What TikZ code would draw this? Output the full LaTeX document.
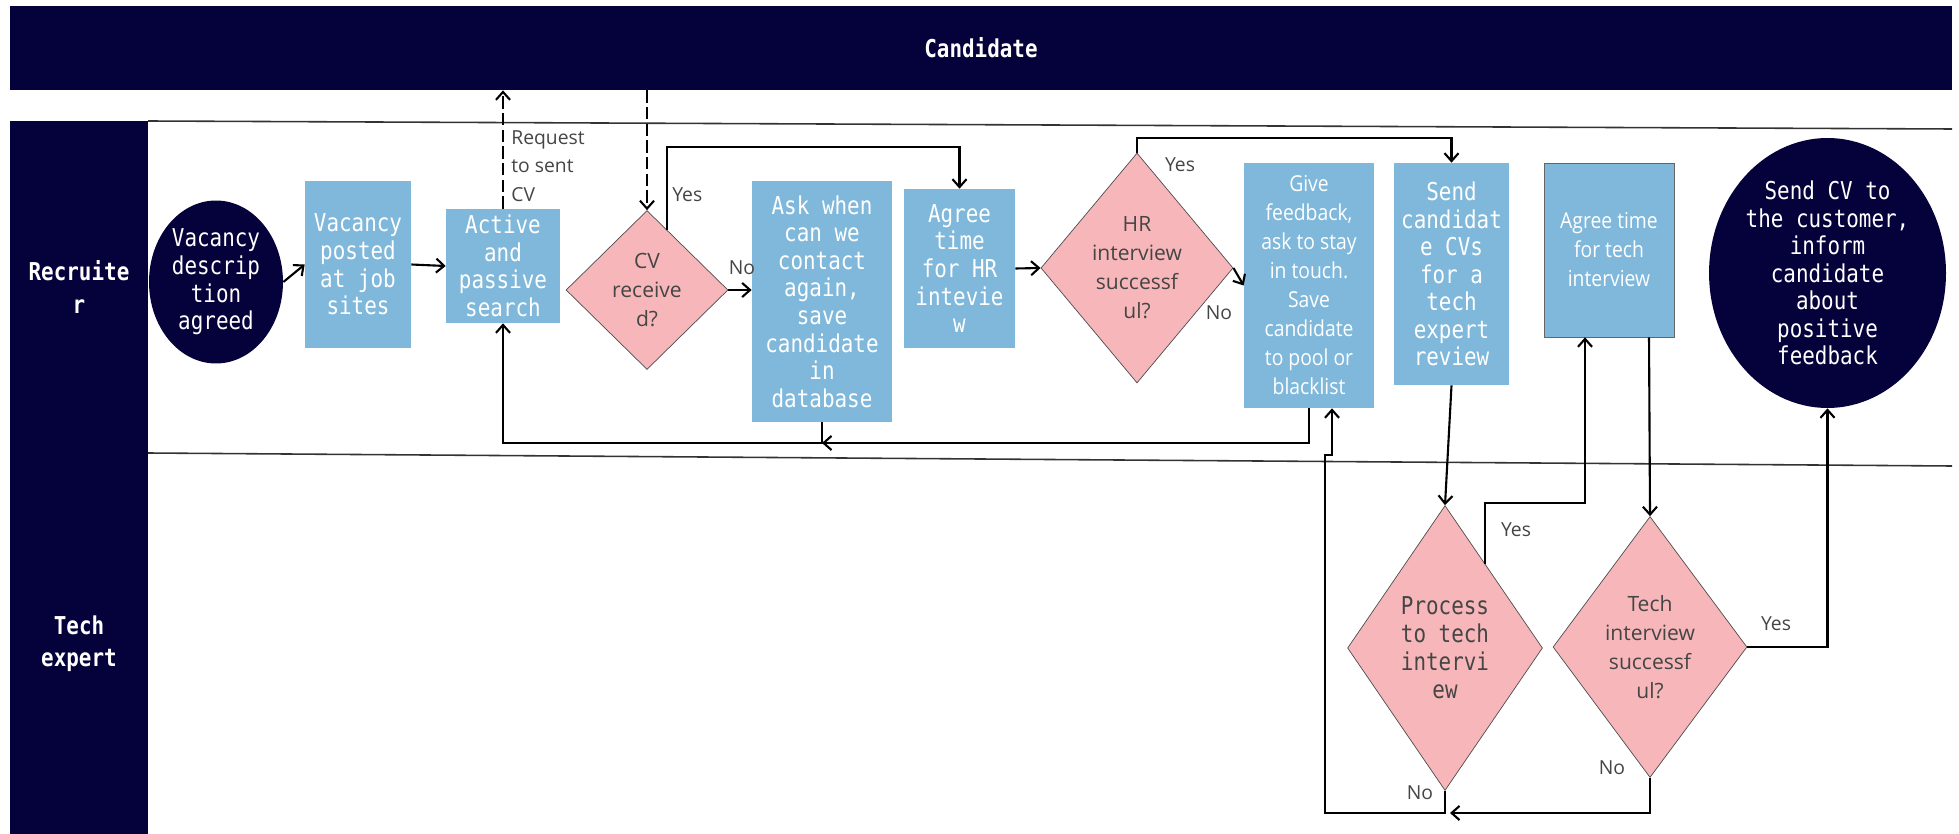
\documentclass[tikz,border=0pt]{standalone}
\usepackage{fontspec}
\setmainfont{Open Sans}
\newfontfamily\monof[FakeStretch=0.85]{DejaVu Sans Mono}
\newfontfamily\sansc[FakeStretch=0.88]{Open Sans}
\usetikzlibrary{shapes.geometric,arrows.meta,calc}
\definecolor{navy}{HTML}{05013A}
\definecolor{boxblue}{HTML}{7FB8DA}
\definecolor{pinkd}{HTML}{F7B7BA}
\definecolor{txtgray}{HTML}{454545}

\begin{document}
\begin{tikzpicture}[x=0.02cm,y=-0.02cm,
  lanebox/.style={fill=navy,text=white,font=\monof\bfseries\fontsize{14}{18.5}\selectfont,align=center,inner sep=0},
  procbox/.style={fill=boxblue,text=white,font=\monof\fontsize{14}{15.7}\selectfont,align=center,inner sep=0},
  procsans/.style={procbox,font=\sansc\fontsize{12.5}{16.5}\selectfont},
  endell/.style={ellipse,fill=navy,text=white,font=\monof\fontsize{14}{15.7}\selectfont,align=center,inner sep=0},
  decision/.style={diamond,draw=black!70,line width=0.4pt,fill=pinkd,text=txtgray,font=\fontsize{12}{16.5}\selectfont,align=center,inner sep=0},
  flow/.style={draw,line width=1.2pt,-{Straight Barb[length=4.5pt,width=8pt]}},
  dflow/.style={flow,dash pattern=on 7pt off 2.5pt},
  lbl/.style={text=txtgray,font=\fontsize{11}{16.2}\selectfont,inner sep=0}]
\useasboundingbox (0,0) rectangle (1959,834);

% lanes
\node[lanebox,minimum width=38.84cm,minimum height=1.68cm] (cand) at (981,48) {Candidate};
\node[lanebox,minimum width=2.76cm,minimum height=6.64cm] (recr) at (79,287) {Recruite\\r};
\node[lanebox,minimum width=2.76cm,minimum height=7.62cm] (tech) at (79,643.5) {Tech\\expert};
\draw[line width=0.9pt,black!80] (148,121) -- (1952,129);
\draw[line width=0.9pt,black!80] (148,453) -- (1952,466);

% recruiter
\node[endell,minimum width=2.68cm,minimum height=3.26cm] (vacell) at (216,282) {Vacancy\\descrip\\tion\\agreed};
\node[procbox,minimum width=2.12cm,minimum height=3.34cm] (posted) at (358,264.5) {Vacancy\\posted\\at job\\sites};
\node[procbox,minimum width=2.28cm,minimum height=2.28cm] (search) at (503,266) {Active\\and\\passive\\search};
\node[decision,minimum width=3.24cm,minimum height=3.18cm] (cvrec) at (647,290) {CV\\receive\\d?};
\node[procbox,minimum width=2.8cm,minimum height=4.82cm] (askwhen) at (822,301.5) {Ask when\\can we\\contact\\again,\\save\\candidate\\in\\database};
\node[procbox,minimum width=2.22cm,minimum height=3.18cm] (agreehr) at (959.5,268.5) {Agree\\time\\for HR\\intevie\\w};
\node[decision,minimum width=3.84cm,minimum height=4.6cm] (hrok) at (1137,268) {HR\\interview\\successf\\ul?};
\node[procsans,minimum width=2.6cm,minimum height=4.9cm] (feedback) at (1309,285.5) {Give\\feedback,\\ask to stay\\in touch.\\Save\\candidate\\to pool or\\blacklist};
\node[procbox,minimum width=2.3cm,minimum height=4.44cm] (sendcvs) at (1451.5,274) {Send\\candidat\\e CVs\\for a\\tech\\expert\\review};
\node[procsans,draw=black!60,minimum width=2.6cm,minimum height=3.48cm] (agreetech) at (1609,250) {Agree time\\for tech\\interview};
\node[endell,minimum width=4.74cm,minimum height=5.4cm] (sendcust) at (1827.5,273) {Send CV to\\the customer,\\inform\\candidate\\about\\positive\\feedback};

% tech expert
\node[decision,font=\monof\fontsize{14}{16}\selectfont,minimum width=3.9cm,minimum height=5.7cm] (proctech) at (1445,648) {Process\\to tech\\intervi\\ew};
\node[decision,minimum width=3.88cm,minimum height=5.22cm] (techok) at (1650,647) {Tech\\interview\\successf\\ul?};

\coordinate (ytop1) at (0,147);
\coordinate (ytop2) at (0,138);
\coordinate (yret) at (0,443);
\coordinate (ybot) at (0,813);

\draw[flow] (vacell.east) -- (posted.west);
\draw[flow] (posted.east) -- (search.west);
\draw[dflow] (search.north) -- (search.north |- cand.south);
\node[lbl,align=left,anchor=west] (reqlbl) at (511,166) {Request\\to sent\\CV};
\draw[dflow] (cvrec.north |- cand.south) -- (cvrec.north);

\coordinate (cvyes) at ($(cvrec.north)!0.25!(cvrec.east)$);
\draw[flow] (cvyes) -- (cvyes |- ytop1) -| (agreehr.north);
\node[lbl,anchor=west] (cvyeslbl) at (672,195) {Yes};
\draw[flow] (cvrec.east) -- (cvrec.east -| askwhen.west);
\node[lbl] (cvnolbl) at (742,268) {No};

\draw[flow] (agreehr.east) -- (hrok.west);
\draw[flow] (hrok.north) -- (hrok.north |- ytop2) -| (sendcvs.north);
\node[lbl] (hryeslbl) at (1180,165) {Yes};
\draw[flow] (hrok.east) -- (feedback.west);
\node[lbl] (hrnolbl) at (1219,313) {No};

\draw[flow] (feedback.south) |- (askwhen.south |- yret);
\draw[flow] (askwhen.south) -- (askwhen.south |- yret) -| (search.south);

\draw[flow] (sendcvs.south) -- (proctech.north);
\coordinate (pyes) at ($(proctech.north)!0.41!(proctech.east)$);
\coordinate (pyestop) at (1585,503);
\draw[flow] (pyes) |- (pyestop) -- (pyestop |- agreetech.south);
\node[lbl] (pyeslbl) at (1516,530) {Yes};
\draw[flow] ($(agreetech.south)+(40,0)$) -- (techok.north);

\coordinate (retA) at (1325,813);
\coordinate (retB) at (1325,455);
\draw[flow] (proctech.south) |- (retA) -- (retB) -| ($(feedback.south)+(23,0)$);
\node[lbl] (pnolbl) at (1420,793) {No};
\draw[flow] (techok.south) |- ($(proctech.south |- ybot)+(5,0)$);
\node[lbl] (tnolbl) at (1612,768) {No};
\draw[flow] (techok.east) -| (sendcust.south);
\node[lbl] (tyeslbl) at (1776,624) {Yes};
\end{tikzpicture}
\end{document}
